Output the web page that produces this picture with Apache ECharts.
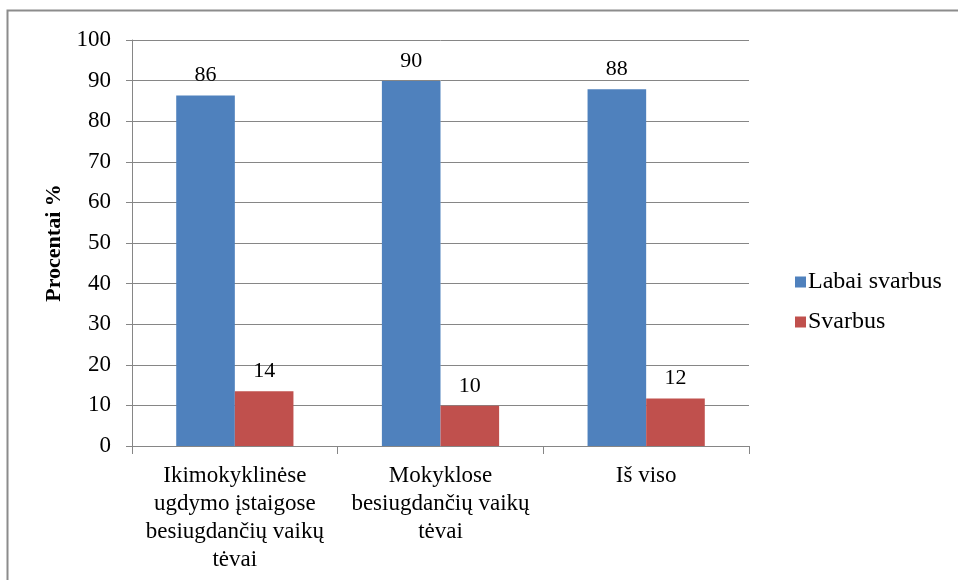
<!DOCTYPE html>
<html>
<head>
<meta charset="utf-8">
<script src="https://cdn.jsdelivr.net/npm/echarts@6/dist/echarts.min.js"></script>
<style>
html,body{margin:0;padding:0;background:#fff;}
#chart{width:958px;height:580px;}
</style>
</head>
<body>
<div id="chart"></div>
<script>
const categories = [
  "Ikimokyklinėse\nugdymo įstaigose\nbesiugdančių vaikų\ntėvai",
  "Mokyklose\nbesiugdančių vaikų\ntėvai",
  "Iš viso"
];
const labaiSvarbus = [86.3, 89.9, 87.9];
const svarbus = [13.5, 9.9, 11.7];
const yTicks = { min: 0, max: 100, interval: 10 };
const seriesNames = ["Labai svarbus", "Svarbus"];

const FONT = "Liberation Serif";
const chart = echarts.init(document.getElementById('chart'), null, { renderer: 'canvas' });
const labelOpt = {
  show: true, position: 'top', distance: 9,
  fontFamily: FONT, fontSize: 22, color: '#000',
  formatter: p => Math.round(p.value)
};
chart.setOption({
  animation: false,
  backgroundColor: '#fff',
  textStyle: { fontFamily: FONT },
  graphic: [{
    type: 'rect', shape: { x: 7.5, y: 10.5, width: 970, height: 600 },
    style: { fill: 'none', stroke: '#8c8c8c', lineWidth: 2 }, silent: true
  }],
  grid: { left: 132, right: 209, top: 40, bottom: 134, containLabel: false },
  legend: {
    orient: 'vertical', left: 790, top: 265,
    itemWidth: 11, itemHeight: 11, itemGap: 16,
    icon: 'rect',
    textStyle: { fontFamily: FONT, fontSize: 24, color: '#000', padding: [0, 0, 0, -3] },
    data: seriesNames
  },
  xAxis: {
    type: 'category', data: categories,
    axisLine: { show: true, lineStyle: { color: '#868686', width: 1 } },
    axisTick: { show: true, alignWithLabel: false, length: 8, lineStyle: { color: '#868686' } },
    axisLabel: { fontFamily: FONT, fontSize: 23, color: '#000', lineHeight: 28, margin: 16, interval: 0 }
  },
  yAxis: {
    type: 'value', min: yTicks.min, max: yTicks.max, interval: yTicks.interval,
    name: 'Procentai %', nameLocation: 'middle', nameGap: 64,
    nameTextStyle: { fontFamily: FONT, fontSize: 22, fontWeight: 'bold', color: '#000' },
    axisLine: { show: true, lineStyle: { color: '#868686', width: 1 } },
    axisTick: { show: true, length: 6, lineStyle: { color: '#868686' } },
    axisLabel: { fontFamily: FONT, fontSize: 23, color: '#000', margin: 21 },
    splitLine: { show: true, lineStyle: { color: '#868686', width: 1 } }
  },
  series: [
    { name: seriesNames[0], type: 'bar', data: labaiSvarbus, barGap: '0%', barCategoryGap: '43%',
      itemStyle: { color: '#4F81BD' }, label: labelOpt },
    { name: seriesNames[1], type: 'bar', data: svarbus, barGap: '0%', barCategoryGap: '43%',
      itemStyle: { color: '#C0504D' }, label: labelOpt }
  ]
});
</script>
</body>
</html>
